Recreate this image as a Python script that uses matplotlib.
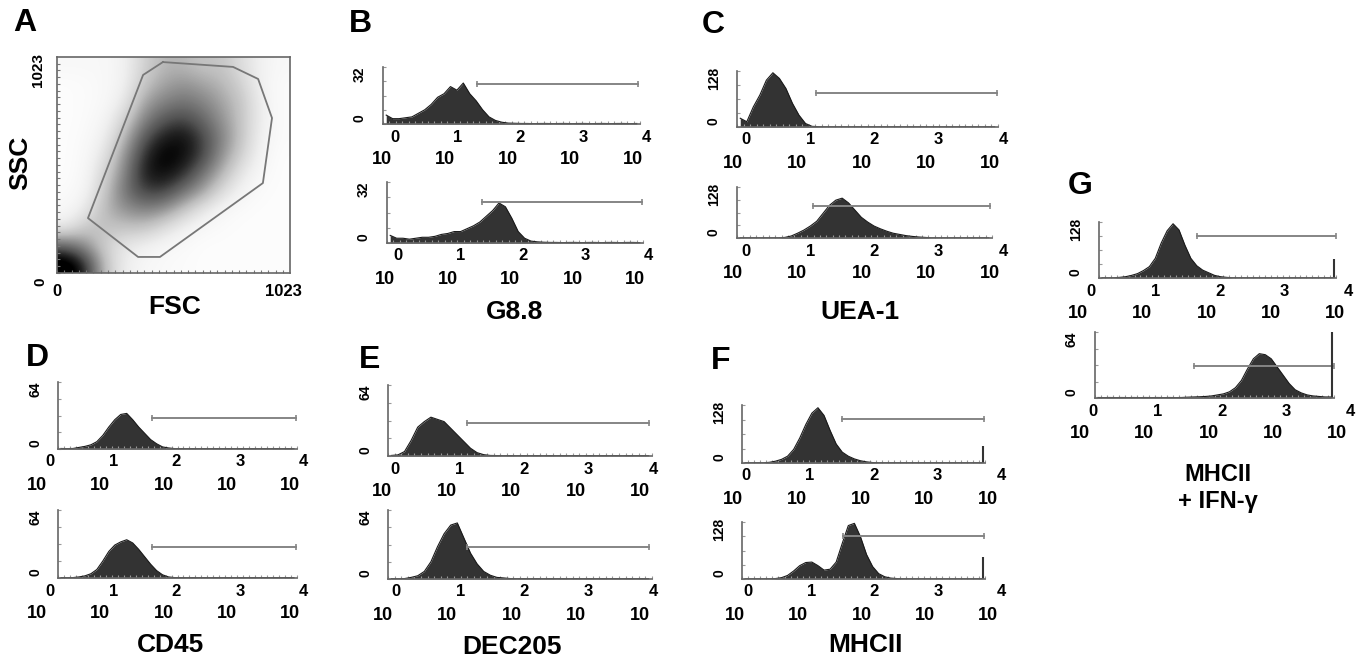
import matplotlib
matplotlib.use('Agg')
import numpy as np
import matplotlib.pyplot as plt

plt.rcParams['font.family'] = ['Liberation Sans', 'DejaVu Sans']
plt.rcParams['font.weight'] = 'bold'

W, H = 1363, 662

# ── data ──────────────────────────────────────────────────────────────

# panel A: FSC/SSC event density, rows from top (SSC high) to bottom, cols FSC low -> high
fsc_ssc_density = [
    [0.05, 0.05, 0.05, 0.10, 0.25, 0.35, 0.35, 0.30, 0.30, 0.20, 0.10, 0.05],
    [0.02, 0.03, 0.05, 0.10, 0.30, 0.40, 0.45, 0.40, 0.35, 0.25, 0.10, 0.03],
    [0.02, 0.03, 0.05, 0.15, 0.40, 0.50, 0.55, 0.50, 0.40, 0.30, 0.12, 0.03],
    [0.02, 0.03, 0.08, 0.25, 0.50, 0.65, 0.70, 0.60, 0.45, 0.30, 0.12, 0.03],
    [0.02, 0.04, 0.12, 0.35, 0.65, 0.80, 0.85, 0.70, 0.50, 0.30, 0.10, 0.03],
    [0.02, 0.05, 0.18, 0.45, 0.75, 0.90, 0.85, 0.70, 0.45, 0.25, 0.08, 0.02],
    [0.02, 0.06, 0.25, 0.50, 0.80, 0.85, 0.75, 0.55, 0.35, 0.15, 0.05, 0.02],
    [0.03, 0.08, 0.30, 0.55, 0.70, 0.70, 0.55, 0.40, 0.20, 0.08, 0.03, 0.02],
    [0.05, 0.15, 0.35, 0.45, 0.50, 0.45, 0.30, 0.15, 0.06, 0.03, 0.02, 0.02],
    [0.15, 0.30, 0.30, 0.30, 0.30, 0.20, 0.10, 0.05, 0.03, 0.02, 0.02, 0.02],
    [0.60, 0.45, 0.25, 0.15, 0.10, 0.06, 0.04, 0.02, 0.02, 0.02, 0.02, 0.02],
    [1.00, 0.75, 0.30, 0.12, 0.06, 0.04, 0.03, 0.02, 0.02, 0.02, 0.02, 0.02],
]
gate_fsc = [465, 773, 883, 944, 904, 452, 356, 136, 378]
gate_ssc = [999, 976, 919, 734, 426, 76, 76, 260, 938]

# histograms: log decade bin centres 0.05 .. 3.95
decades = np.arange(40) * 0.1 + 0.05

g88_ctrl = [5, 3, 3, 3.5, 4, 6, 8, 11, 15, 17, 21, 19, 23, 17, 13, 8, 4, 2, 1, 0.5,
            0.4, 0.3, 0.3, 0.2, 0.3, 0.3, 0.2, 0.3, 0.3, 0.2, 0.3, 0.3, 0.2, 0.3, 0.3, 0.2, 0.3, 0.3, 0.2, 0.3]
g88_stain = [4, 2.5, 2.5, 2, 2.5, 3, 3, 3.5, 4.5, 5, 6, 6, 7.5, 9, 11, 14, 17, 21, 19, 13,
             6, 2.5, 1, 0.6, 0.4, 0.3, 0.3, 0.2, 0.3, 0.3, 0.2, 0.3, 0.3, 0.2, 0.3, 0.3, 0.2, 0.3, 0.3, 0.2]
uea_ctrl = [20, 12, 46, 73, 107, 124, 111, 88, 54, 27, 8, 1.5, 0.8, 0.5, 0.5, 0.4, 0.5, 0.4, 0.5, 0.4,
            0.5, 0.4, 0.5, 0.4, 0.5, 0.4, 0.5, 0.4, 0.5, 0.4, 0.5, 0.4, 0.5, 0.4, 0.5, 0.4, 0.5, 0.4, 0.5, 0.4]
uea_stain = [0.5, 0.4, 0.5, 0.4, 0.5, 0.4, 0.5, 1.5, 5, 12, 20, 30, 42, 62, 82, 95, 100, 88, 70, 52,
             40, 30, 23, 17, 12, 9, 6, 4, 2.5, 1.5, 0.5, 0.4, 0.5, 0.4, 0.5, 0.4, 0.5, 0.4, 0.5, 0.4]
cd45_ctrl = [0.5, 0.4, 0.5, 1.5, 2.5, 4, 7, 13, 21, 28, 33, 34, 28, 21, 15, 9, 5, 2, 1, 0.4,
             0.4, 0.3, 0.4, 0.3, 0.4, 0.3, 0.4, 0.3, 0.4, 0.3, 0.4, 0.3, 0.4, 0.3, 0.4, 0.3, 0.4, 0.3, 0.4, 0.3]
cd45_stain = [0.4, 0.3, 0.4, 1, 2, 4, 8, 16, 25, 31, 34, 36, 33, 27, 20, 13, 7, 3, 1, 0.4,
              0.4, 0.3, 0.4, 0.3, 0.4, 0.3, 0.4, 0.3, 0.4, 0.3, 0.4, 0.3, 0.4, 0.3, 0.4, 0.3, 0.4, 0.3, 0.4, 0.3]
dec205_ctrl = [0.5, 1, 4, 14, 26, 31, 35, 33, 31, 25, 19, 13, 7, 3, 1.2, 0.5, 0.4, 0.3, 0.4, 0.3,
               0.4, 0.3, 0.4, 0.3, 0.4, 0.3, 0.4, 0.3, 0.4, 0.3, 0.4, 0.3, 0.4, 0.3, 0.4, 0.3, 0.4, 0.3, 0.4, 0.3]
dec205_stain = [0.4, 0.3, 0.4, 1.5, 3, 7, 16, 30, 42, 50, 52, 38, 24, 14, 7, 3.5, 1.5, 1, 0.4, 0.3,
                0.4, 0.3, 0.4, 0.3, 0.4, 0.3, 0.4, 0.3, 0.4, 0.3, 0.4, 0.3, 0.4, 0.3, 0.4, 0.3, 0.4, 0.3, 0.4, 0.3]
mhc_ctrl = [0.5, 0.4, 0.5, 0.4, 1.5, 4, 8, 15, 30, 55, 85, 110, 122, 105, 72, 42, 24, 15, 9, 5,
            2.5, 1, 0.5, 0.4, 0.5, 0.4, 0.5, 0.4, 0.5, 0.4, 0.5, 0.4, 0.5, 0.4, 0.5, 0.4, 0.5, 0.4, 0.5, 0.4]
mhc_stain = [0.5, 0.4, 0.5, 0.4, 0.5, 1, 3, 8, 18, 30, 37, 38, 30, 20, 22, 38, 80, 120, 125, 95,
             55, 28, 12, 5, 2, 1, 0.5, 0.4, 0.5, 0.4, 0.5, 0.4, 0.5, 0.4, 0.5, 0.4, 0.5, 0.4, 0.5, 0.4]
mhc_ifn_ctrl = [0.5, 0.4, 0.5, 1.5, 3, 6, 10, 17, 26, 45, 80, 108, 124, 110, 75, 45, 28, 18, 12, 6,
                3, 1.5, 0.5, 0.4, 0.5, 0.4, 0.5, 0.4, 0.5, 0.4, 0.5, 0.4, 0.5, 0.4, 0.5, 0.4, 0.5, 0.4, 0.5, 0.4]
mhc_ifn_stain = [0.5, 0.4, 0.5, 0.4, 0.5, 0.4, 0.5, 0.4, 0.5, 0.4, 0.5, 0.4, 0.5, 0.4, 0.5, 0.8, 1, 1.2, 1.5, 2,
                 3, 4, 6, 10, 17, 28, 38, 43, 42, 38, 30, 22, 14, 8, 5, 3, 2, 1.5, 1, 1]

# y-axis maxima, marker gates (start decade, end decade, height) and right-edge pile-up
y_max = [32, 32, 128, 128, 64, 64, 64, 64, 128, 128, 128, 64]
gates = [(1.46, 3.97, 22.5), (1.48, 3.98, 21.5), (1.21, 3.98, 78), (1.19, 3.97, 80),
         (1.57, 3.98, 29.5), (1.57, 3.98, 29.5), (1.20, 3.96, 29.5), (1.20, 3.96, 29.5),
         (1.65, 3.98, 97), (1.66, 3.98, 96), (1.65, 4.0, 96), (1.66, 4.0, 31)]
pileup = [0, 0, 0, 0, 0, 0, 0, 0, 38, 50, 43, 64]
hist_values = [g88_ctrl, g88_stain, uea_ctrl, uea_stain, cd45_ctrl, cd45_stain,
               dec205_ctrl, dec205_stain, mhc_ctrl, mhc_stain, mhc_ifn_ctrl, mhc_ifn_stain]

marker_names = ["G8.8", "UEA-1", "CD45", "DEC205", "MHCII", "MHCII\n+ IFN-γ"]
panel_letters = ["A", "B", "C", "D", "E", "F", "G"]

# ── layout (pixel boxes: left, right, top, base, first "10", last "10") ──
boxes = [
    (383, 640, 67, 124, 382, 633), (387, 643, 182, 243, 385, 635),
    (737, 998, 71, 127, 733, 990), (737, 992, 187, 238, 733, 990),
    (58, 297, 382, 449, 37, 290), (58, 297, 510, 578, 37, 290),
    (388, 652, 385, 456, 382, 640), (388, 652, 510, 579, 383, 640),
    (742, 985, 405, 463, 733, 988), (742, 985, 522, 579, 735, 988),
    (1099, 1336, 222, 278, 1078, 1335), (1095, 1334, 332, 398, 1080, 1337),
]
name_pos = [(515, 312), (860, 312), (170, 645), (512, 647), (865, 645), (1218, 488)]
letter_pos = [(25, 23), (360, 24), (713, 25), (37, 358), (370, 360), (721, 361), (1080, 186)]

GREY = "#666666"


def px(x, y):
    return x / W, 1 - y / H


def add_axes_px(fig, l, r, t, b):
    return fig.add_axes([l / W, 1 - b / H, (r - l) / W, (b - t) / H])


def draw_hist(ax, vals, ymax, gate, spike):
    ax.fill_between(decades, 0, vals, color="#333333", lw=0)
    ax.plot(decades, vals, color="#1a1a1a", lw=0.8)
    ax.plot(gate[:2], [gate[2]] * 2, color="#858585", lw=1.4)
    ax.plot(gate[:2], [gate[2]] * 2, ls="none", marker="|", ms=5, mew=1.2, color="#858585")
    if spike:
        ax.vlines(3.97, 0, spike, color="#333333", lw=1.5)
    ax.set_xlim(0, 4)
    ax.set_ylim(0, ymax)
    for s in ("top", "right"):
        ax.spines[s].set_visible(False)
    for s in ("left", "bottom"):
        ax.spines[s].set_color(GREY)
        ax.spines[s].set_linewidth(1.2)
    ax.set_xticks(np.arange(0, 4.01, 0.1))
    ax.set_yticks(np.arange(0, ymax + 0.1, ymax / 4))
    ax.tick_params(direction="in", length=2.5, width=0.8, colors="#999999",
                   labelbottom=False, labelleft=False)
    ax.set_facecolor("none")


fig = plt.figure(figsize=(W / 100, H / 100), dpi=100)

# ── panel A ───────────────────────────────────────────────────────────
axA = add_axes_px(fig, 57, 290, 57, 273)
axA.imshow(fsc_ssc_density, extent=[0, 1023, 0, 1023], origin="upper", cmap="Greys",
           vmin=0, vmax=0.88, interpolation="bicubic", aspect="auto")
axA.plot(gate_fsc + gate_fsc[:1], gate_ssc + gate_ssc[:1], color="#777777", lw=1.3)
axA.set_xlim(0, 1023)
axA.set_ylim(0, 1023)
axA.set_xticks(np.arange(0, 1023, 32))
axA.set_yticks(np.arange(0, 1023, 32))
axA.tick_params(direction="in", length=2.5, width=0.8, colors="#777777",
                labelbottom=False, labelleft=False)
for s in axA.spines.values():
    s.set_color(GREY)
    s.set_linewidth(1.2)

fig.text(*px(38, 70), "1023", rotation=90, fontsize=11, ha="center", va="center")
fig.text(*px(40, 282), "0", rotation=90, fontsize=11, ha="center", va="center")
fig.text(*px(57, 292), "0", fontsize=12, ha="center", va="center")
fig.text(*px(283, 292), "1023", fontsize=12, ha="center", va="center")
fig.text(*px(20, 163), "SSC", rotation=90, fontsize=19, ha="center", va="center")
fig.text(*px(175, 307), "FSC", fontsize=19, ha="center", va="center")

# ── histogram panels ──────────────────────────────────────────────────
for i, (l, r, t, b, ten0, ten4) in enumerate(boxes):
    ax = add_axes_px(fig, l, r, t, b)
    draw_hist(ax, hist_values[i], y_max[i], gates[i], pileup[i])
    fig.text(*px(l - 23, t + 7), str(y_max[i]), rotation=90, fontsize=10,
             ha="center", va="center")
    fig.text(*px(l - 23, b - 6), "0", rotation=90, fontsize=10, ha="center", va="center")
    for k, tx in enumerate(np.linspace(ten0, ten4, 5)):
        fig.text(*px(tx + 13, b + 13), str(k), fontsize=12, ha="center", va="center")
        fig.text(*px(tx, b + 36), "10", fontsize=13, ha="center", va="center")

for name, (x, y) in zip(marker_names, name_pos):
    fig.text(*px(x, y), name, fontsize=19 if "\n" not in name else 17,
             ha="center", va="center", linespacing=1.25)

for letter, (x, y) in zip(panel_letters, letter_pos):
    fig.text(*px(x, y), letter, fontsize=23, ha="center", va="center")

fig.savefig("out.png", dpi=100)
